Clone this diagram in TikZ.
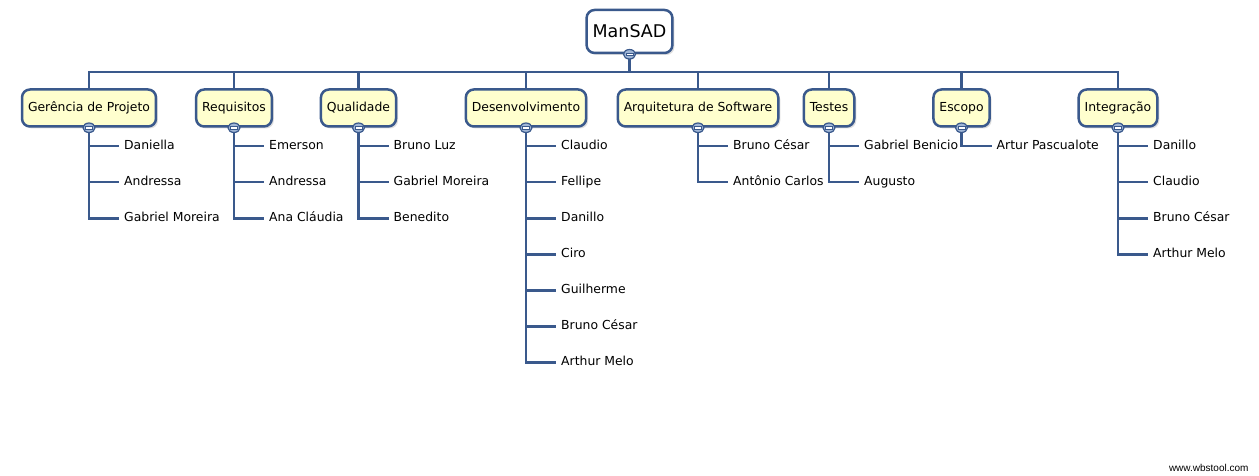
\documentclass[tikz,border=0pt]{standalone}
\usepackage{fontspec}
\setmainfont{DejaVu Sans}
\newfontfamily\wbsmark{Liberation Sans}
\usepackage{tikz}
\usetikzlibrary{positioning,shadows,shapes.geometric}
\definecolor{wbsline}{RGB}{58,89,140}
\definecolor{wbsfill}{RGB}{255,255,206}
\definecolor{wbstog}{RGB}{160,182,214}
\tikzset{
 wbs link/.style={draw=wbsline,line width=2.5pt},
 wbs root/.style={draw=wbsline,line width=2.5pt,fill=white,rounded corners=8pt,
                  minimum height=43pt,inner xsep=6pt,
                  font=\fontsize{17.5}{20}\selectfont,
                  drop shadow={opacity=.25,shadow xshift=2pt,shadow yshift=-2pt}},
 wbs box/.style={draw=wbsline,line width=2.5pt,fill=wbsfill,rounded corners=8pt,
                 minimum height=37pt,inner xsep=6pt,text height=9.5pt,text depth=2.5pt,
                 font=\fontsize{12.4}{14}\selectfont,
                 drop shadow={opacity=.25,shadow xshift=2pt,shadow yshift=-2pt}},
 wbs toggle/.style={ellipse,draw=wbsline,line width=1.2pt,fill=wbstog,
                    minimum width=12pt,minimum height=9.5pt,inner sep=0pt},
 wbs leaf/.style={anchor=west,inner xsep=5pt,inner ysep=2pt,
                  text height=9.5pt,text depth=2.5pt,
                  font=\fontsize{12.4}{14}\selectfont}
}

\begin{document}
\begin{tikzpicture}[x=1pt,y=-1pt]
 \useasboundingbox[fill=white] (0,0) rectangle (1259,476);
 % root
 \node[wbs root] (root) at (629.5,31.5) {ManSAD};
 \coordinate (bar) at (629.5,72);
 % level one
 \foreach \p/\x/\t in {gp/89/Gerência de Projeto,rq/234/Requisitos,
                       ql/358.5/Qualidade,ds/526/Desenvolvimento,
                       as/698/Arquitetura de Software,ts/829/Testes,
                       es/961.5/Escopo,ig/1118/Integração}{
   \node[wbs box] (\p) at (\x,108) {\t};
   \draw[wbs link] (bar) -| (\p.north);
 }
 \draw[wbs link] (root.south) -- (bar);
 % leaves
 \foreach \p/\kids in {gp/{Daniella,Andressa,Gabriel Moreira},
                       rq/{Emerson,Andressa,Ana Cláudia},
                       ql/{Bruno Luz,Gabriel Moreira,Benedito},
                       ds/{Claudio,Fellipe,Danillo,Ciro,Guilherme,Bruno César,Arthur Melo},
                       as/{Bruno César,Antônio Carlos},
                       ts/{Gabriel Benicio,Augusto},
                       es/{Artur Pascualote},
                       ig/{Danillo,Claudio,Bruno César,Arthur Melo}}{
   \foreach \k [count=\i] in \kids{
     \node[wbs leaf] (\p\i) at ([xshift=30pt,yshift=-18.5pt-36pt*(\i-1)]\p.south) {\k};
     \draw[wbs link] (\p.south) |- (\p\i.west);
   }
 }
 % toggles
 \foreach \p in {root,gp,rq,ql,ds,as,ts,es,ig}{
   \node[wbs toggle] (\p-t) at (\p.south) {};
   \draw[draw=wbsline,fill=white,line width=.6pt]
     ([xshift=-3.5pt,yshift=-1.2pt]\p-t.center) rectangle ([xshift=3.5pt,yshift=1.2pt]\p-t.center);
 }
 \node[font=\wbsmark\fontsize{10}{12}\selectfont,anchor=east] (mark) at (1252,468) {www.wbstool.com};
\end{tikzpicture}
\end{document}
